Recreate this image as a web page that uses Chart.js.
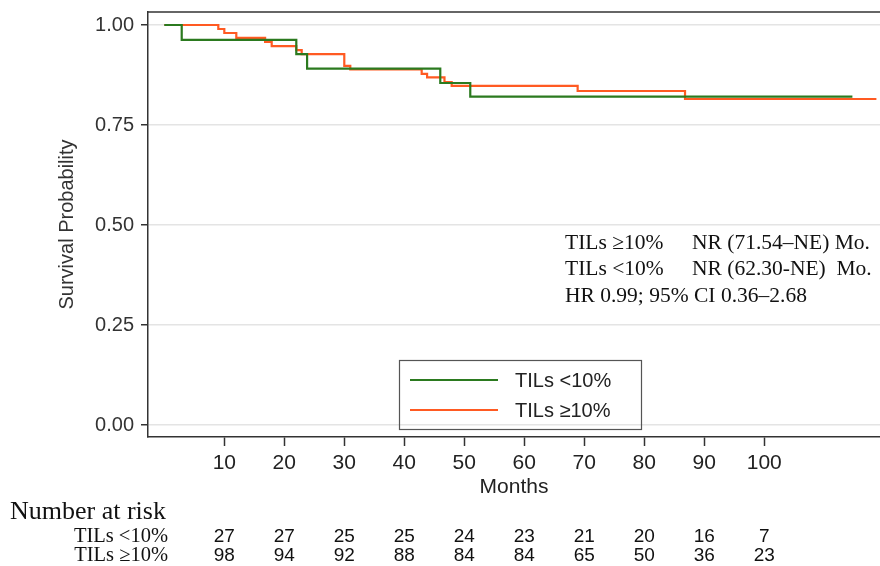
<!DOCTYPE html>
<html>
<head>
<meta charset="utf-8">
<script src="https://cdn.jsdelivr.net/npm/chart.js@4.4.1/dist/chart.umd.min.js"></script>
<style>
  body { margin: 0; background: #fff; }
  .graph { width: 880px; height: 566px; position: relative; }
</style>
</head>
<body>
<div class="graph"><canvas id="myChart"></canvas></div>
<script>
// KM curves (months, survival probability)
const monthsLow = [0, 2.9, 22, 23.8, 46, 51, 114.7]
const survLow = [1, 0.963, 0.927, 0.891, 0.855, 0.821, 0.821]
const monthsHigh = [0, 9, 10, 12, 16.8, 17.9, 22, 22.9, 30, 31, 42.9, 43.8, 46.7, 47.9, 68.9, 86.8, 118.7]
const survHigh = [1, 0.99, 0.98, 0.968, 0.958, 0.947, 0.937, 0.927, 0.898, 0.889, 0.878, 0.869, 0.857, 0.848, 0.835, 0.815, 0.815]

const xTicks = [10, 20, 30, 40, 50, 60, 70, 80, 90, 100]
const yTicks = [0, 0.25, 0.5, 0.75, 1]
const riskLow = [27, 27, 25, 25, 24, 23, 21, 20, 16, 7]
const riskHigh = [98, 94, 92, 88, 84, 84, 65, 50, 36, 23]
const groups = ['TILs <10%', 'TILs ≥10%']
const notes = [
    ['TILs ≥10%', 'NR (71.54–NE) Mo.'],
    ['TILs <10%', 'NR (62.30-NE)  Mo.'],
    ['HR 0.99; 95% CI 0.36–2.68', '']
]

const sans = "'Liberation Sans', Arial, sans-serif"
const serif = "'Liberation Serif', 'Times New Roman', serif"
const green = '#2b7a1f'
const orange = '#ff5a22'

const toPoints = (xs, ys) => xs.map((x, i) => ({x: x, y: ys[i]}))

const extras = {
    id: 'extras',
    afterDraw(chart) {
        const c = chart.ctx
        const area = chart.chartArea
        const x = chart.scales.x
        c.save()
        // top line of the plot box
        c.strokeStyle = '#333'
        c.lineWidth = 1.5
        c.beginPath()
        c.moveTo(area.left, area.top)
        c.lineTo(area.right, area.top)
        c.stroke()

        // legend box
        c.lineWidth = 1.2
        c.strokeStyle = '#555'
        c.strokeRect(399.5, 360.5, 242, 69)
        chart.data.datasets.forEach((ds, i) => {
            const y = 380 + i * 30
            c.strokeStyle = ds.borderColor
            c.lineWidth = 2
            c.beginPath()
            c.moveTo(410, y)
            c.lineTo(498, y)
            c.stroke()
            c.fillStyle = '#222'
            c.font = '20px ' + sans
            c.textBaseline = 'middle'
            c.textAlign = 'left'
            c.fillText(ds.label, 515, y + 1)
        })

        // annotation
        c.fillStyle = '#111'
        c.font = '21.5px ' + serif
        notes.forEach((n, i) => {
            const y = 243 + i * 26.5
            c.fillText(n[0], 565, y)
            if (n[1]) c.fillText(n[1], 692, y)
        })

        // number at risk table
        c.font = '26px ' + serif
        c.fillText('Number at risk', 10, 512)
        c.font = '20.5px ' + serif
        c.textAlign = 'right'
        c.fillText(groups[0], 168, 537)
        c.fillText(groups[1], 168, 556)
        c.font = '19px ' + sans
        c.textAlign = 'center'
        xTicks.forEach((t, i) => {
            const px = x.getPixelForValue(t)
            c.fillText(String(riskLow[i]), px, 537)
            c.fillText(String(riskHigh[i]), px, 556)
        })
        c.restore()
    }
}

const ctx = document.getElementById('myChart')
const chart = new Chart(ctx, {
    type: 'line',
    data: {
        datasets: [{
            label: groups[0],
            data: toPoints(monthsLow, survLow),
            borderColor: green,
            backgroundColor: green,
            borderWidth: 2.2,
            stepped: 'before',
            pointRadius: 0
        },
        {
            label: groups[1],
            data: toPoints(monthsHigh, survHigh),
            borderColor: orange,
            backgroundColor: orange,
            borderWidth: 2.2,
            stepped: 'before',
            pointRadius: 0
        }]
    },
    options: {
        responsive: true,
        maintainAspectRatio: false,
        animation: false,
        layout: { padding: { left: 55, right: 0, top: 12, bottom: 66 } },
        plugins: { legend: { display: false }, tooltip: { enabled: false } },
        scales: {
            x: {
                type: 'linear',
                min: -2.72,
                max: 119.3,
                afterBuildTicks: s => { s.ticks = xTicks.map(v => ({value: v})) },
                afterFit: s => { s.height = 63; s.paddingLeft = 0; s.paddingRight = 0 },
                grid: { drawOnChartArea: false, tickLength: 9, tickColor: '#333', tickWidth: 1.5 },
                border: { color: '#333', width: 1.5 },
                ticks: { color: '#222', padding: 5, maxRotation: 0, autoSkip: false, font: { family: sans, size: 21 } },
                title: { display: true, text: 'Months', color: '#222', font: { family: sans, size: 21 }, padding: { top: 0, bottom: 0 } }
            },
            y: {
                min: -0.03,
                max: 1.0325,
                afterBuildTicks: s => { s.ticks = yTicks.map(v => ({value: v})) },
                afterFit: s => { s.width = 93; s.paddingTop = 0; s.paddingBottom = 0 },
                grid: { color: '#e4e4e4', lineWidth: 1.5, tickColor: '#333', tickLength: 7, tickWidth: 1.5 },
                border: { color: '#333', width: 1.5 },
                ticks: { color: '#333', padding: 7, font: { family: sans, size: 20 }, callback: v => v.toFixed(2) },
                title: { display: true, text: 'Survival Probability', color: '#333', font: { family: sans, size: 20 }, padding: 0 }
            }
        }
    },
    plugins: [extras]
})
</script>
</body>
</html>
